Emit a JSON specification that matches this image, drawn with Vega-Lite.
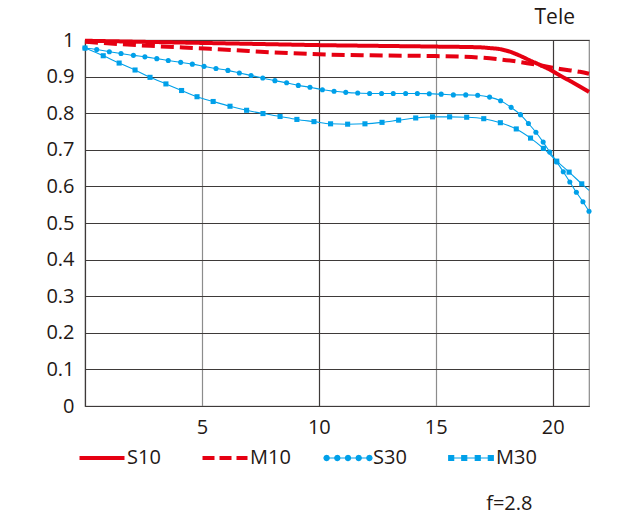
{
  "$schema": "https://vega.github.io/schema/vega-lite/v6.json",
  "width": 504,
  "height": 366,
  "autosize": {"type": "none"},
  "padding": {"left": 85, "top": 40, "right": 51, "bottom": 111},
  "background": "white",
  "title": {"text": "Tele", "anchor": "end", "fontSize": 21, "fontWeight": "normal", "font": "Open Sans", "color": "#231815", "offset": 2, "dx": -22},
  "config": {
    "view": {"stroke": "#8a8a8a", "strokeWidth": 1.2},
    "axis": {"labelFont": "Open Sans", "labelFontSize": 20, "labelColor": "#231815", "ticks": false, "domainColor": "#3e3a39", "domainWidth": 1.2, "titleFont": "Open Sans"},
    "legend": {"labelFont": "Open Sans"}
  },
  "datasets": {
    "mtf": [
      {"series": "S10", "x": 0, "v": 0.998},
      {"series": "S10", "x": 2.5, "v": 0.995},
      {"series": "S10", "x": 5, "v": 0.992},
      {"series": "S10", "x": 7.5, "v": 0.989},
      {"series": "S10", "x": 10, "v": 0.986},
      {"series": "S10", "x": 12.5, "v": 0.984},
      {"series": "S10", "x": 15, "v": 0.982},
      {"series": "S10", "x": 16.9, "v": 0.98},
      {"series": "S10", "x": 17.3, "v": 0.978},
      {"series": "S10", "x": 17.74, "v": 0.975},
      {"series": "S10", "x": 18.17, "v": 0.968},
      {"series": "S10", "x": 18.6, "v": 0.957},
      {"series": "S10", "x": 19.03, "v": 0.944},
      {"series": "S10", "x": 19.45, "v": 0.932},
      {"series": "S10", "x": 19.88, "v": 0.919},
      {"series": "S10", "x": 20.31, "v": 0.903},
      {"series": "S10", "x": 20.74, "v": 0.888},
      {"series": "S10", "x": 21.16, "v": 0.873},
      {"series": "S10", "x": 21.55, "v": 0.858},
      {"series": "M10", "x": 0, "v": 0.995},
      {"series": "M10", "x": 2.78, "v": 0.984},
      {"series": "M10", "x": 5.34, "v": 0.976},
      {"series": "M10", "x": 6.49, "v": 0.972},
      {"series": "M10", "x": 7.5, "v": 0.968},
      {"series": "M10", "x": 10, "v": 0.961},
      {"series": "M10", "x": 12.2, "v": 0.958},
      {"series": "M10", "x": 15, "v": 0.956},
      {"series": "M10", "x": 16.88, "v": 0.952},
      {"series": "M10", "x": 17.74, "v": 0.947},
      {"series": "M10", "x": 18.6, "v": 0.94},
      {"series": "M10", "x": 19.45, "v": 0.931},
      {"series": "M10", "x": 20.31, "v": 0.921},
      {"series": "M10", "x": 21.16, "v": 0.913},
      {"series": "M10", "x": 21.55, "v": 0.908},
      {"series": "S30", "x": 0, "v": 0.978},
      {"series": "S30", "x": 0.5, "v": 0.974},
      {"series": "S30", "x": 1.04, "v": 0.968},
      {"series": "S30", "x": 1.54, "v": 0.963},
      {"series": "S30", "x": 2.07, "v": 0.958},
      {"series": "S30", "x": 2.56, "v": 0.954},
      {"series": "S30", "x": 3.07, "v": 0.949},
      {"series": "S30", "x": 3.56, "v": 0.944},
      {"series": "S30", "x": 4.09, "v": 0.939},
      {"series": "S30", "x": 4.59, "v": 0.934},
      {"series": "S30", "x": 5.09, "v": 0.928},
      {"series": "S30", "x": 5.6, "v": 0.922},
      {"series": "S30", "x": 6.11, "v": 0.917},
      {"series": "S30", "x": 6.6, "v": 0.91},
      {"series": "S30", "x": 7.1, "v": 0.903},
      {"series": "S30", "x": 7.6, "v": 0.896},
      {"series": "S30", "x": 8.12, "v": 0.889},
      {"series": "S30", "x": 8.62, "v": 0.883},
      {"series": "S30", "x": 9.12, "v": 0.876},
      {"series": "S30", "x": 9.62, "v": 0.871},
      {"series": "S30", "x": 10.15, "v": 0.864},
      {"series": "S30", "x": 10.65, "v": 0.86},
      {"series": "S30", "x": 11.15, "v": 0.857},
      {"series": "S30", "x": 11.66, "v": 0.855},
      {"series": "S30", "x": 12.17, "v": 0.854},
      {"series": "S30", "x": 12.68, "v": 0.854},
      {"series": "S30", "x": 13.18, "v": 0.854},
      {"series": "S30", "x": 13.71, "v": 0.854},
      {"series": "S30", "x": 14.21, "v": 0.854},
      {"series": "S30", "x": 14.72, "v": 0.853},
      {"series": "S30", "x": 15.23, "v": 0.852},
      {"series": "S30", "x": 15.75, "v": 0.85},
      {"series": "S30", "x": 16.28, "v": 0.85},
      {"series": "S30", "x": 16.79, "v": 0.849},
      {"series": "S30", "x": 17.3, "v": 0.844},
      {"series": "S30", "x": 17.77, "v": 0.834},
      {"series": "S30", "x": 18.22, "v": 0.816},
      {"series": "S30", "x": 18.62, "v": 0.796},
      {"series": "S30", "x": 18.96, "v": 0.772},
      {"series": "S30", "x": 19.28, "v": 0.748},
      {"series": "S30", "x": 19.59, "v": 0.721},
      {"series": "S30", "x": 19.87, "v": 0.694},
      {"series": "S30", "x": 20.17, "v": 0.667},
      {"series": "S30", "x": 20.45, "v": 0.64},
      {"series": "S30", "x": 20.73, "v": 0.612},
      {"series": "S30", "x": 21.01, "v": 0.584},
      {"series": "S30", "x": 21.29, "v": 0.558},
      {"series": "S30", "x": 21.55, "v": 0.532},
      {"series": "M30", "x": 0, "v": 0.978},
      {"series": "M30", "x": 0.78, "v": 0.957},
      {"series": "M30", "x": 1.46, "v": 0.937},
      {"series": "M30", "x": 2.14, "v": 0.918},
      {"series": "M30", "x": 2.78, "v": 0.898},
      {"series": "M30", "x": 3.46, "v": 0.88},
      {"series": "M30", "x": 4.13, "v": 0.862},
      {"series": "M30", "x": 4.79, "v": 0.845},
      {"series": "M30", "x": 5.48, "v": 0.832},
      {"series": "M30", "x": 6.2, "v": 0.819},
      {"series": "M30", "x": 6.91, "v": 0.808},
      {"series": "M30", "x": 7.61, "v": 0.799},
      {"series": "M30", "x": 8.34, "v": 0.791},
      {"series": "M30", "x": 9.06, "v": 0.783},
      {"series": "M30", "x": 9.79, "v": 0.777},
      {"series": "M30", "x": 10.5, "v": 0.771},
      {"series": "M30", "x": 11.23, "v": 0.77},
      {"series": "M30", "x": 11.97, "v": 0.771},
      {"series": "M30", "x": 12.7, "v": 0.775},
      {"series": "M30", "x": 13.41, "v": 0.781},
      {"series": "M30", "x": 14.14, "v": 0.787},
      {"series": "M30", "x": 14.86, "v": 0.79},
      {"series": "M30", "x": 15.59, "v": 0.79},
      {"series": "M30", "x": 16.32, "v": 0.789},
      {"series": "M30", "x": 17.05, "v": 0.785},
      {"series": "M30", "x": 17.76, "v": 0.774},
      {"series": "M30", "x": 18.44, "v": 0.757},
      {"series": "M30", "x": 19.05, "v": 0.732},
      {"series": "M30", "x": 19.6, "v": 0.704},
      {"series": "M30", "x": 20.17, "v": 0.669},
      {"series": "M30", "x": 20.7, "v": 0.639},
      {"series": "M30", "x": 21.24, "v": 0.607},
      {"series": "M30", "x": 21.55, "v": 0.589}
    ]
  },
  "data": {"name": "mtf"},
  "encoding": {
    "x": {
      "field": "x", "type": "quantitative",
      "scale": {"domain": [0, 21.55], "nice": false, "zero": false},
      "axis": {
        "values": [5, 10, 15, 20], "labelPadding": 11, "grid": true,
        "gridColor": {"condition": {"test": "datum.value % 10 === 0", "value": "#3e3a39"}, "value": "#8c8c8c"},
        "gridWidth": 1.2,
        "title": "f=2.8", "titleFontSize": 20, "titleFontWeight": "normal", "titleColor": "#231815",
        "titleAlign": "right", "titleAnchor": null, "titleX": 447, "titleY": 97, "titleBaseline": "middle"
      }
    },
    "y": {
      "field": "v", "type": "quantitative",
      "scale": {"domain": [0, 1], "nice": false},
      "axis": {
        "values": [0, 0.1, 0.2, 0.3, 0.4, 0.5, 0.6, 0.7, 0.8, 0.9, 1],
        "format": ".1~f", "labelPadding": 11, "grid": true, "gridColor": "#3e3a39", "gridWidth": 1, "title": null
      }
    }
  },
  "layer": [
    {
      "transform": [{"filter": "datum.series === 'S10' || datum.series === 'M10'"}],
      "mark": {"type": "line", "strokeWidth": 4, "interpolate": "monotone"},
      "encoding": {
        "color": {
          "field": "series", "type": "nominal",
          "scale": {"domain": ["S10", "M10", "S30", "M30"], "range": ["#e60012", "#e60012", "#00a0e9", "#00a0e9"]},
          "legend": {
            "title": null, "orient": "none", "legendX": 7, "legendY": 408, "direction": "horizontal", "columns": 4,
            "gridAlign": "all", "columnPadding": 26, "padding": 0, "symbolSize": 2025, "symbolStrokeWidth": 1,
            "labelFontSize": 20, "labelColor": "#231815", "labelOffset": 15,
            "encode": {
              "symbols": {
                "update": {
                  "shape": {"signal": "datum.value === 'S30' ? 'M-1,0H1M-0.83,0L-0.865,0.085L-0.95,0.12L-1.035,0.085L-1.07,0L-1.035,-0.085L-0.95,-0.12L-0.865,-0.085ZM-0.355,0L-0.39,0.085L-0.475,0.12L-0.56,0.085L-0.595,0L-0.56,-0.085L-0.475,-0.12L-0.39,-0.085ZM0.12,0L0.085,0.085L0,0.12L-0.085,0.085L-0.12,0L-0.085,-0.085L0,-0.12L0.085,-0.085ZM0.595,0L0.56,0.085L0.475,0.12L0.39,0.085L0.355,0L0.39,-0.085L0.475,-0.12L0.56,-0.085ZM1.07,0L1.035,0.085L0.95,0.12L0.865,0.085L0.83,0L0.865,-0.085L0.95,-0.12L1.035,-0.085Z' : datum.value === 'M30' ? 'M-1,0H1M-0.99,-0.11H-0.77V0.11H-0.99ZM-0.41,-0.11H-0.19V0.11H-0.41ZM0.19,-0.11H0.41V0.11H0.19ZM0.77,-0.11H0.99V0.11H0.77Z' : 'M-1,0H1'"},
                  "size": {"value": 2025},
                  "stroke": {"signal": "(datum.value === 'S10' || datum.value === 'M10') ? '#e60012' : '#00a0e9'"},
                  "fill": {"signal": "(datum.value === 'S10' || datum.value === 'M10') ? '#e60012' : '#00a0e9'"},
                  "strokeWidth": {"signal": "(datum.value === 'S10' || datum.value === 'M10') ? 4 : 1.2"},
                  "strokeDash": {"signal": "datum.value === 'M10' ? [12, 5] : [1, 0]"},
                  "opacity": {"value": 1}
                }
              }
            }
          }
        },
        "strokeDash": {
          "field": "series", "type": "nominal",
          "scale": {"domain": ["S10", "M10"], "range": [[1, 0], [13, 6]]},
          "legend": null
        }
      }
    },
    {
      "transform": [{"filter": "datum.series === 'S30' || datum.series === 'M30'"}],
      "mark": {"type": "line", "strokeWidth": 1.1, "interpolate": "monotone"},
      "encoding": {
        "color": {"field": "series", "type": "nominal"},
        "detail": {"field": "series", "type": "nominal"}
      }
    },
    {
      "transform": [{"filter": "datum.series === 'S30' || (datum.series === 'M30' && datum.x < 21.5)"}],
      "mark": {"type": "point", "filled": true, "opacity": 1, "size": 26},
      "encoding": {
        "color": {"field": "series", "type": "nominal"},
        "shape": {
          "field": "series", "type": "nominal",
          "scale": {"domain": ["S30", "M30"], "range": ["circle", "square"]},
          "legend": null
        }
      }
    }
  ]
}
